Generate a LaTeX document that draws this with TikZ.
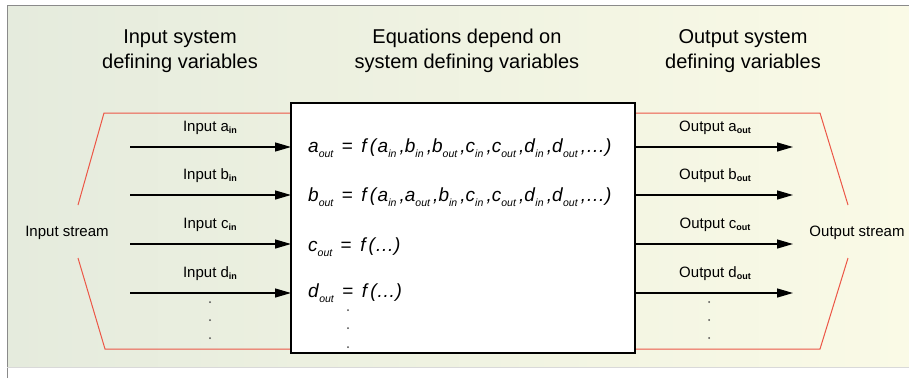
\documentclass[tikz,border=0pt]{standalone}
\usepackage{fontspec}
\setmainfont{Liberation Sans}
\usetikzlibrary{positioning, arrows.meta}

\definecolor{streamred}{HTML}{EC5646}
\definecolor{bgleft}{HTML}{E5EBDD}
\definecolor{bgright}{HTML}{FAFAE6}
\definecolor{framegray}{HTML}{8A8A8A}

% subscripts for labels and equations
\newcommand{\lsub}[1]{\raisebox{-0.25ex}{\fontsize{9}{9}\selectfont\bfseries #1}}
\newcommand{\esub}[1]{\raisebox{-0.5ex}{\fontsize{10.5}{11}\selectfont\itshape #1}}
\newcommand{\ev}[2]{\textit{#1}\esub{#2}}

\begin{document}
\begin{tikzpicture}[
  x=1pt, y=-1pt,
  heading/.style={font=\fontsize{20}{25}\selectfont, align=center},
  label/.style={font=\fontsize{15}{16}\selectfont},
  eqn/.style={font=\fontsize{19}{21}\selectfont, anchor=west, inner sep=0pt},
  system/.style={draw=black, line width=1.2pt, fill=white},
  stream/.style={draw=streamred, line width=1pt},
  arrow/.style={line width=1.3pt, -{Triangle[length=16pt, width=9pt]}},
  dotmark/.style={fill=black!70}
]
\useasboundingbox (0,0) rectangle (909,378);

% ── Background frame ──────────────────────────────────────
\shade[left color=bgleft, right color=bgright] (7,5) rectangle (909,367);
\draw[framegray, line width=1pt] (7,378) -- (7,5) -- (909,5);
\draw[black!15, line width=0.8pt] (7,367) -- (909,367);

% ── Headings ──────────────────────────────────────────────
\node[heading] (inhead)  at (180,51) {Input system\\defining variables};
\node[heading] (eqhead)  at (467,51) {Equations depend on\\system defining variables};
\node[heading] (outhead) at (743,51) {Output system\\defining variables};

% ── Streams ───────────────────────────────────────────────
\draw[stream] (291,113) -- (104,113) -- (78,205);
\draw[stream] (78,258) -- (105,349) -- (291,349);
\draw[stream] (635,113) -- (820,113) -- (848,205);
\draw[stream] (848,258) -- (820,349) -- (635,349);
\node[label] (instream)  at (67,233)  {Input stream};
\node[label] (outstream) at (857,233) {Output stream};

% ── System box ────────────────────────────────────────────
\path[system] (291,103) rectangle (635,353);
\coordinate (boxwest) at (291,103);
\coordinate (boxeast) at (635,103);

% ── Inputs and outputs ────────────────────────────────────
\foreach \v/\y in {a/147, b/195, c/244, d/293}{
  \coordinate (in\v)  at (130,\y);
  \coordinate (out\v) at (793,\y);
  \draw[arrow] (in\v) -- (in\v -| boxwest);
  \draw[arrow] (out\v -| boxeast) -- (out\v);
  \node[label] (inlab\v)  at (210,\y-19) {Input \v\lsub{in}};
  \node[label] (outlab\v) at (715,\y-19) {Output \v\lsub{out}};
}

% ── Equations ─────────────────────────────────────────────
\node[eqn] (eqa) at (308,148) {\ev{a}{out} \,=\, \textit{f\,(}\ev{a}{in}\,\textit{,}\ev{b}{in}\,\textit{,}\ev{b}{out}\,\textit{,}\ev{c}{in}\,\textit{,}\ev{c}{out}\,\textit{,}\ev{d}{in}\,\textit{,}\ev{d}{out}\,\textit{,\ldots)}};
\node[eqn] (eqb) at (308,197) {\ev{b}{out} \,=\, \textit{f\,(}\ev{a}{in}\,\textit{,}\ev{a}{out}\,\textit{,}\ev{b}{in}\,\textit{,}\ev{c}{in}\,\textit{,}\ev{c}{out}\,\textit{,}\ev{d}{in}\,\textit{,}\ev{d}{out}\,\textit{,\ldots)}};
\node[eqn] (eqc) at (308,247) {\ev{c}{out} \,=\, \textit{f\,(\ldots)}};
\node[eqn] (eqd) at (308,293) {\ev{d}{out} \,=\, \textit{f\,(\ldots)}};

% ── Continuation dots ─────────────────────────────────────
\foreach \y in {302, 320, 338}{
  \fill[dotmark] (210,\y) circle (1pt);
  \fill[dotmark] (709,\y) circle (1pt);
}
\foreach \y in {310, 328, 347}
  \fill[dotmark] (348,\y) circle (1pt);

\end{tikzpicture}
\end{document}
